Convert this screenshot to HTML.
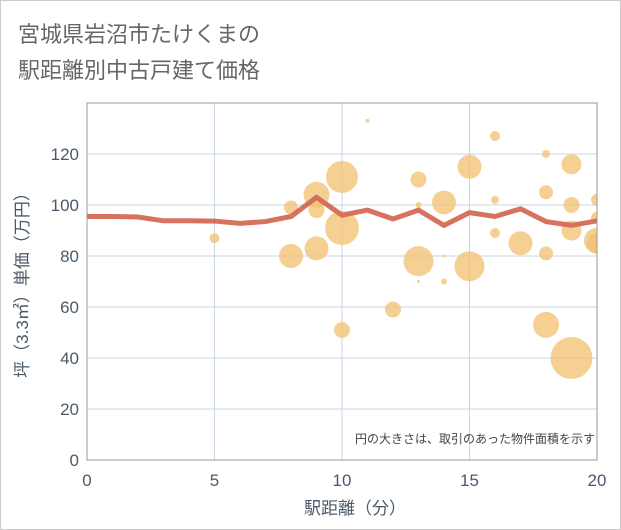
<!DOCTYPE html>
<html><head><meta charset="utf-8"><style>
body{margin:0;background:#fff;}
svg{display:block;font-family:"Liberation Sans","Noto Sans CJK JP",sans-serif;}
</style></head><body>
<svg id="chart" width="621" height="530">
<rect x="0.5" y="0.5" width="620" height="529" fill="#fff" stroke="#ccc"/>
<text x="18" y="42" font-size="22" fill="#666">宮城県岩沼市たけくまの</text>
<text x="18" y="78" font-size="22" fill="#666">駅距離別中古戸建て価格</text>
<g id="grid"></g>
<defs><clipPath id="pc"><rect x="87" y="103" width="510" height="357"/></clipPath></defs>
<g id="bubbles" clip-path="url(#pc)"></g>
<g id="line"></g>
<rect x="87" y="103" width="510" height="357" fill="none" stroke="#999"/>
<g id="ticks"></g>
<text x="595" y="443" font-size="12" fill="#444" text-anchor="end">円の大きさは、取引のあった物件面積を示す</text>
<text x="355" y="514" font-size="17" fill="#4a5a6a" text-anchor="middle">駅距離（分）</text>
<text transform="translate(28,281) rotate(-90)" font-size="17" fill="#4a5a6a" text-anchor="middle">坪（3.3㎡）単価（万円）</text>
</svg>
<script>
const xTicks=[0,5,10,15,20];
const yTicks=[0,20,40,60,80,100,120];
const lineX=[0,1,2,3,4,5,6,7,8,9,10,11,12,13,14,15,16,17,18,19,20];
const lineY=[95.5,95.5,95.3,93.8,93.8,93.7,92.8,93.5,95.5,103,96,98,94.5,98,92,97,95.5,98.5,93.5,92,93.8];
const bubX=[5,8,8,9,9,9,10,10,10,11,12,13,13,13,13,14,14,14,15,15,16,16,16,17,18,18,18,18,19,19,19,19,20,20,20,20];
const bubY=[87,99,80,104,98,83,111,91,51,133,59,110,100,78,70,101,80,70,115,76,127,102,89,85,120,105,81,53,116,100,90,40,102,95,86,85];
const bubSize=[5,7,12,13,8,12,16,17,8,2,8,8,3,15,1.5,12,1.5,3,12,15,5,4,5,12,4,7,7,13,10,8,10,21,6,6,13,10];
const X0=87,X1=597,Y0=460,Y1=103,YMAX=140;
const sx=v=>X0+(v/20)*(X1-X0);
const sy=v=>Y0-(v/YMAX)*(Y0-Y1);
const NS="http://www.w3.org/2000/svg";
const mk=(t,a,p)=>{const e=document.createElementNS(NS,t);for(const k in a)e.setAttribute(k,a[k]);p.appendChild(e);return e;};
const grid=document.getElementById('grid'),ticks=document.getElementById('ticks');
yTicks.forEach(v=>{
 const l=mk('line',{x1:X0,x2:X1,y1:sy(v),y2:sy(v),stroke:'#c9d6e3','stroke-width':1},grid);
 
 
 const t=mk('text',{x:X0-8,y:sy(v)+6,'font-size':17,fill:'#4a5a6a','text-anchor':'end'},ticks);
 t.textContent=v;
 
 
});
xTicks.forEach(v=>{
 const l=mk('line',{x1:sx(v),x2:sx(v),y1:Y1,y2:Y0,stroke:'#c9d6e3','stroke-width':1},grid);
 
 
 const t=mk('text',{x:sx(v),y:486,'font-size':17,fill:'#4a5a6a','text-anchor':'middle'},ticks);
 t.textContent=v;
 
 
});
const bg=document.getElementById('bubbles');
bubX.forEach((x,i)=>{
 const c=mk('circle',{cx:sx(x),cy:sy(bubY[i]),r:bubSize[i],fill:'#f2c06e','fill-opacity':0.75},bg);
 
 
});
const p=mk('polyline',{points:lineX.map((x,i)=>sx(x)+','+sy(lineY[i])).join(' '),fill:'none',stroke:'#d46a55','stroke-width':5,'stroke-linejoin':'miter','stroke-opacity':0.95},document.getElementById('line'));


</script>
</body></html>
